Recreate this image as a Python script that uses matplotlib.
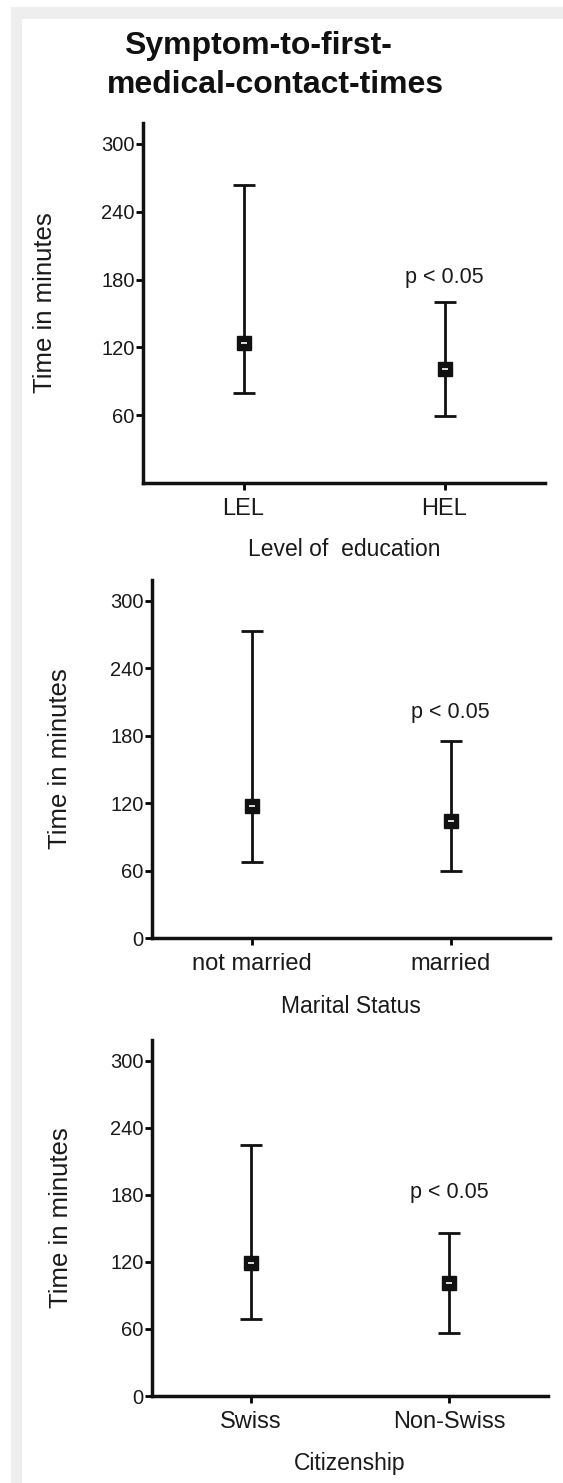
import matplotlib
matplotlib.use("Agg")
import matplotlib.pyplot as plt
from matplotlib.patches import Rectangle

plt.rcParams['font.family'] = ['Liberation Sans', 'DejaVu Sans']

title_lines = ["Symptom-to-first-", "medical-contact-times"]

edu_cats = ["LEL", "HEL"]
edu_median = [124, 101]
edu_low = [80, 59]
edu_high = [264, 160]

mar_cats = ["not married", "married"]
mar_median = [117, 104]
mar_low = [68, 60]
mar_high = [273, 175]

cit_cats = ["Swiss", "Non-Swiss"]
cit_median = [119, 101]
cit_low = [69, 56]
cit_high = [225, 146]

xlabels = ["Level of  education", "Marital Status", "Citizenship"]
ylabel = "Time in minutes"
p_text = "p < 0.05"
p_y = [182, 201, 182]
yticks_list = [[60, 120, 180, 240, 300], [0, 60, 120, 180, 240, 300], [0, 60, 120, 180, 240, 300]]

W, H = 563, 1483
fig = plt.figure(figsize=(W / 100, H / 100), dpi=100)
fig.patch.set_facecolor('white')

# gray frame
fig.add_artist(Rectangle((11 / W, 1 - 19 / H), (W - 11) / W, 12 / H, transform=fig.transFigure,
                         facecolor='#eeeeee', edgecolor='none', zorder=0))
fig.add_artist(Rectangle((11 / W, 0), 11 / W, 1 - 7 / H, transform=fig.transFigure,
                         facecolor='#eeeeee', edgecolor='none', zorder=0))

fig.text(258 / W, 1 - 54 / H, title_lines[0], fontsize=23, fontweight='bold', ha='center', va='baseline', color='#111111')
fig.text(275 / W, 1 - 93 / H, title_lines[1], fontsize=23, fontweight='bold', ha='center', va='baseline', color='#111111')

boxes = [(143, 545, 123, 483), (152, 550, 580, 938), (152, 548, 1040, 1396)]
data = [(edu_cats, edu_median, edu_low, edu_high),
        (mar_cats, mar_median, mar_low, mar_high),
        (cit_cats, cit_median, cit_low, cit_high)]
ylab_x = [-0.215, -0.2, -0.2]
xlab_y = [-0.153, -0.159, -0.157]

for i, ((l, r, t, b), (cats, med, lo, hi)) in enumerate(zip(boxes, data)):
    ax = fig.add_axes([l / W, 1 - b / H, (r - l) / W, (b - t) / H])
    ax.set_facecolor('none')
    xs = list(range(len(cats)))
    yerr = [[m - a for m, a in zip(med, lo)], [h - m for m, h in zip(med, hi)]]
    ax.errorbar(xs, med, yerr=yerr, fmt='none', ecolor='#111111', elinewidth=2.0,
                capsize=8, capthick=2.0, zorder=2)
    ax.plot(xs, med, linestyle='none', marker='s', markersize=10, color='#111111', zorder=3)
    ax.plot(xs, med, linestyle='none', marker='_', markersize=4, markeredgewidth=1.2,
            color='white', zorder=4)
    ax.set_xlim(-0.5, 1.5)
    ax.set_ylim(0, 318.5)
    ax.set_xticks(xs)
    ax.set_xticklabels(cats, fontsize=17, color='#1a1a1a')
    ax.set_yticks(yticks_list[i])
    ax.tick_params(axis='y', labelsize=14.5, length=5, width=2, pad=1, labelcolor='#1a1a1a')
    ax.tick_params(axis='x', length=5, width=2, pad=6)
    for s in ['top', 'right']:
        ax.spines[s].set_visible(False)
    for s in ['left', 'bottom']:
        ax.spines[s].set_linewidth(2.5)
        ax.spines[s].set_color('#111111')
    ax.set_ylabel(ylabel, fontsize=18.5, color='#1a1a1a')
    ax.yaxis.set_label_coords(ylab_x[i], 0.5)
    ax.set_xlabel(xlabels[i], fontsize=16.5, color='#1a1a1a')
    ax.xaxis.set_label_coords(0.5, xlab_y[i])
    ax.text(1, p_y[i], p_text, fontsize=15.5, ha='center', va='center', color='#1a1a1a')

fig.savefig('out.png', dpi=100)
